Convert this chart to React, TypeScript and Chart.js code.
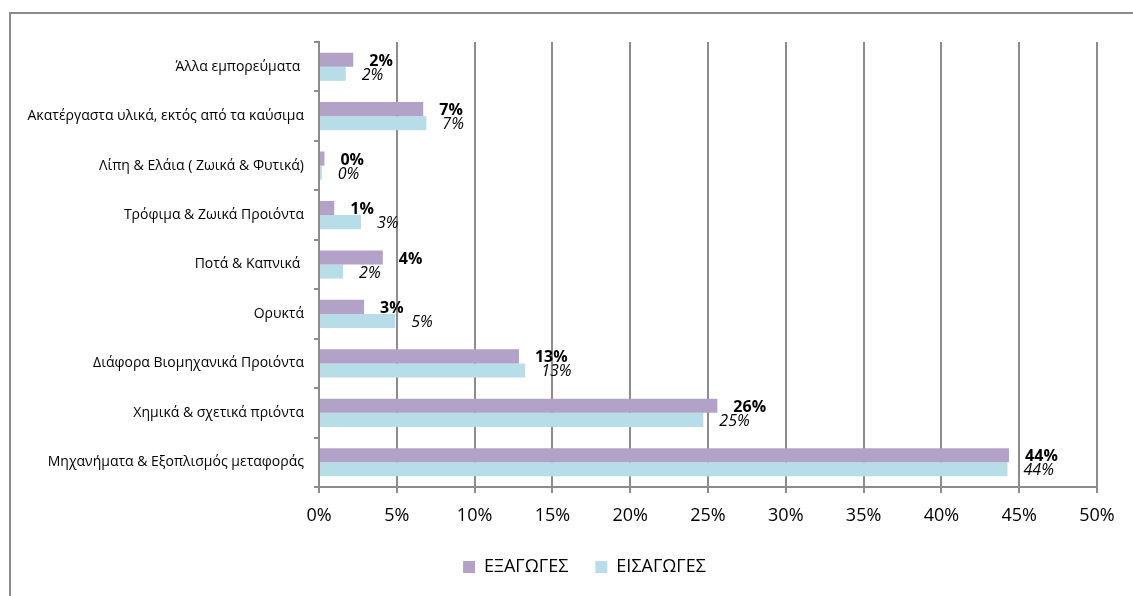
import React, { useEffect, useRef } from "react";
import { Chart, registerables } from "chart.js";

Chart.register(...registerables);

const categories = [
  "Άλλα εμπορεύματα ",
  "Ακατέργαστα υλικά, εκτός από τα καύσιμα",
  "Λίπη & Ελάια ( Ζωικά & Φυτικά)",
  "Τρόφιμα & Ζωικά Προιόντα",
  "Ποτά & Καπνικά ",
  "Ορυκτά",
  "Διάφορα Βιομηχανικά Προιόντα",
  "Χημικά & σχετικά πριόντα",
  "Μηχανήματα & Εξοπλισμός μεταφοράς",
];

const seriesNames = ["ΕΞΑΓΩΓΕΣ", "ΕΙΣΑΓΩΓΕΣ"];
const exportsValues = [2.2, 6.7, 0.35, 0.98, 4.1, 2.9, 12.85, 25.6, 44.35];
const importsValues = [1.72, 6.9, 0.18, 2.7, 1.55, 4.9, 13.25, 24.7, 44.25];
const xMin = 0;
const xMax = 50;
const xStep = 5;

const FONT = "'Open Sans', 'DejaVu Sans', sans-serif";
const GRID = "#8c8c8c";

const labelPlugin = {
  id: "barValueLabels",
  afterDatasetsDraw(chart: any) {
    const ctx = chart.ctx;
    ctx.save();
    ctx.fillStyle = "#000";
    ctx.textAlign = "left";
    ctx.textBaseline = "middle";
    chart.data.datasets.forEach((ds: any, di: number) => {
      const meta = chart.getDatasetMeta(di);
      ctx.font = di === 0 ? `bold 16px ${FONT}` : `italic 16px ${FONT}`;
      meta.data.forEach((el: any, i: number) => {
        const v = ds.data[i] as number;
        ctx.fillText(`${Math.round(v)}%`, el.x + 16, el.y + 1.5);
      });
    });
    ctx.restore();
  },
};

const legendShiftPlugin = {
  id: "legendShift",
  afterLayout(chart: any) {
    const lg = chart.legend;
    if (lg) {
      lg.left += 36;
      lg.right += 36;
    }
  },
};

export default function App() {
  const ref = useRef<HTMLCanvasElement | null>(null);

  useEffect(() => {
    if (!ref.current) return;
    const chart = new Chart(ref.current, {
      type: "bar",
      data: {
        labels: categories,
        datasets: [
          {
            label: seriesNames[0],
            data: exportsValues,
            backgroundColor: "#B2A2C7",
            borderWidth: 0,
            categoryPercentage: 0.57,
            barPercentage: 1,
          },
          {
            label: seriesNames[1],
            data: importsValues,
            backgroundColor: "#B7DEE8",
            borderWidth: 0,
            categoryPercentage: 0.57,
            barPercentage: 1,
          },
        ],
      },
      options: {
        indexAxis: "y",
        responsive: false,
        animation: false,
        devicePixelRatio: 1,
        layout: { padding: { left: 0, top: 42, right: 36, bottom: 10 } },
        scales: {
          x: {
            type: "linear",
            min: xMin,
            max: xMax,
            ticks: {
              stepSize: xStep,
              callback: (v: any) => `${v}%`,
              color: "#000",
              font: { family: FONT, size: 18 },
              padding: 12,
            },
            grid: {
              color: GRID,
              lineWidth: 2,
              tickLength: 6,
              tickColor: GRID,
              drawOnChartArea: true,
            },
            border: { color: GRID, width: 2 },
            afterFit: (scale: any) => {
              scale.height = 44;
            },
          },
          y: {
            type: "category",
            ticks: {
              color: "#000",
              font: { family: FONT, size: 14 },
              padding: 10,
              autoSkip: false,
            },
            grid: {
              offset: true,
              drawOnChartArea: false,
              tickLength: 5,
              tickColor: GRID,
              lineWidth: 2,
            },
            border: { color: GRID, width: 2 },
            afterFit: (scale: any) => {
              scale.width = 319;
            },
          },
        },
        plugins: {
          legend: {
            position: "bottom",
            labels: {
              boxWidth: 12,
              boxHeight: 12,
              padding: 27,
              color: "#000",
              font: { family: FONT, size: 18 },
            },
          },
          tooltip: { enabled: false },
        },
      },
      plugins: [labelPlugin, legendShiftPlugin],
    });
    return () => chart.destroy();
  }, []);

  return (
    <div style={{ position: "fixed", left: 0, top: 0, width: 1133, height: 596, overflow: "hidden", background: "#fff" }}>
      <div
        style={{
          position: "absolute",
          left: 9,
          top: 12,
          width: 1300,
          height: 800,
          border: "2px solid #8a8a8a",
          boxSizing: "border-box",
        }}
      />
      <canvas ref={ref} width={1133} height={596} style={{ position: "absolute", left: 0, top: 0, width: 1133, height: 596 }} />
    </div>
  );
}
